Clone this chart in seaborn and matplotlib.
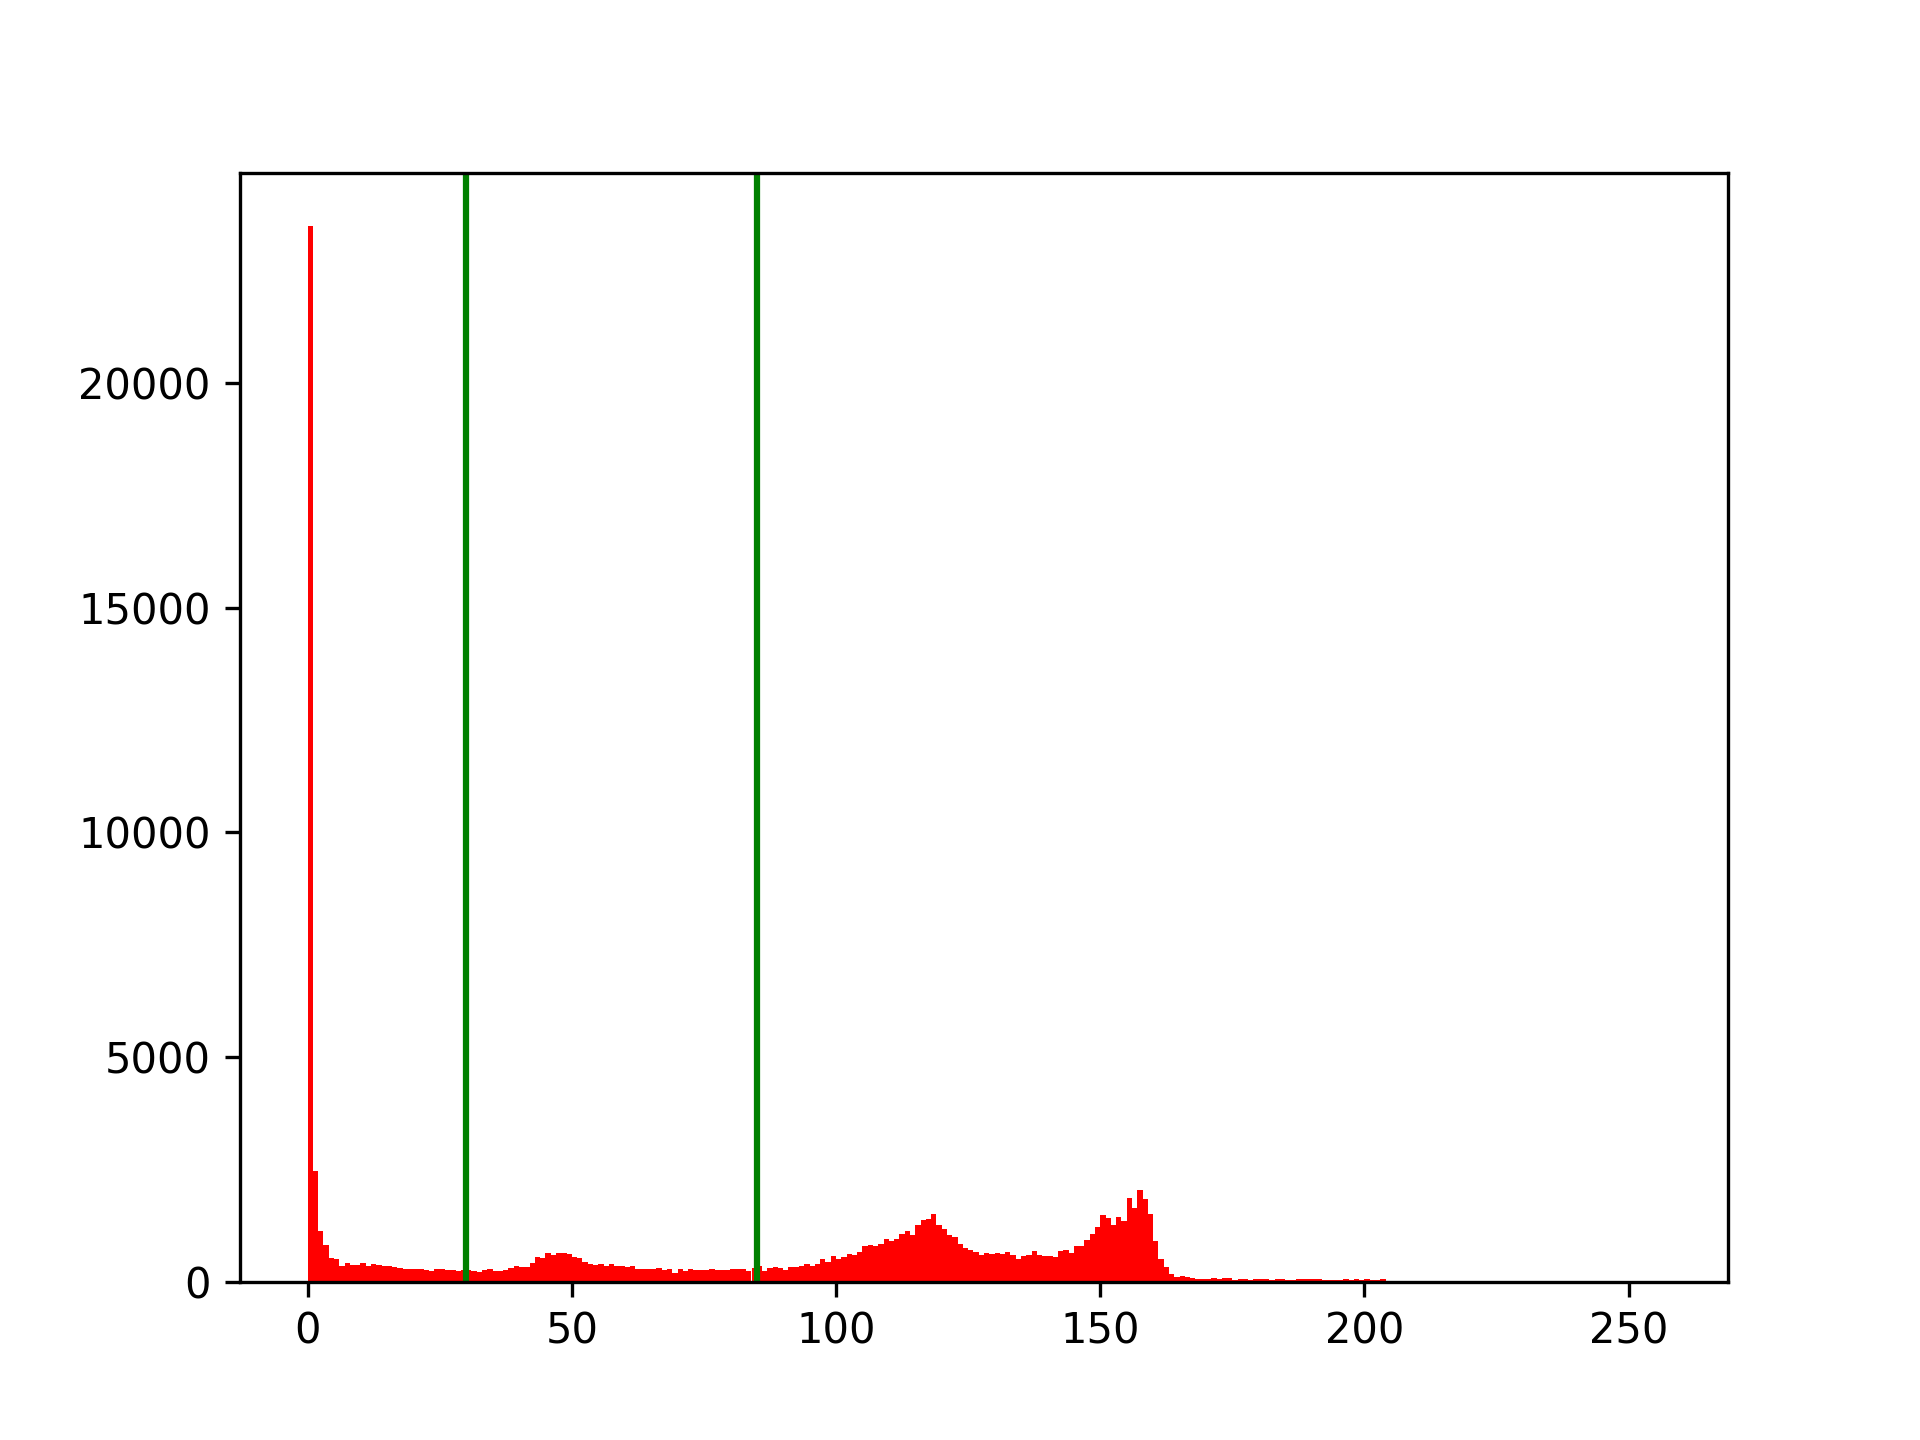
import numpy as np
import matplotlib
matplotlib.use("Agg")
import matplotlib.pyplot as plt
import seaborn as sns

# pixel value bins (0..255) and their counts
levels = np.arange(256)
counts = [
    23500, 2465, 1125, 815, 525, 505, 345, 415, 370, 370,
    415, 345, 390, 370, 345, 345, 325, 305, 285, 285,
    285, 285, 265, 245, 285, 285, 265, 265, 245, 265,
    265, 225, 205, 265, 285, 245, 245, 265, 305, 345,
    325, 325, 415, 545, 525, 635, 592, 635, 635, 615,
    547, 525, 435, 391, 369, 391, 347, 391, 347, 347,
    325, 347, 280, 280, 280, 280, 302, 258, 280, 191,
    280, 235, 280, 258, 258, 258, 280, 258, 258, 258,
    280, 280, 280, 235, 302, 347, 235, 302, 325, 302,
    258, 325, 325, 347, 391, 347, 391, 503, 436, 570,
    503, 547, 614, 592, 659, 793, 815, 793, 837, 949,
    904, 949, 1060, 1127, 1038, 1261, 1372, 1394, 1506, 1261,
    1171, 1038, 993, 837, 748, 703, 659, 592, 637, 614,
    637, 614, 659, 592, 503, 570, 592, 681, 592, 570,
    570, 547, 681, 703, 637, 793, 793, 926, 1060, 1216,
    1483, 1416, 1261, 1439, 1350, 1862, 1639, 2040, 1840, 1506,
    904, 503, 325, 169, 102, 124, 102, 80, 57, 57,
    57, 80, 57, 80, 80, 30, 57, 57, 30, 57,
    57, 57, 30, 57, 57, 30, 30, 57, 57, 57,
    57, 57, 30, 30, 30, 30, 57, 30, 57, 30,
    57, 30, 30, 57,
] + [0] * 52

# threshold markers
thresholds = [30, 85]

fig, ax = plt.subplots(figsize=(6.4, 4.8), dpi=300)
sns.histplot(x=levels, weights=counts, bins=256, binrange=(0, 256),
             color="red", alpha=1.0, linewidth=0, edgecolor="none", ax=ax)
for t in thresholds:
    ax.axvline(t, color="green", linewidth=1.5)

ax.set_xlabel("")
ax.set_ylabel("")
ax.set_xticks([0, 50, 100, 150, 200, 250])

fig.savefig("out.png", dpi=300)
